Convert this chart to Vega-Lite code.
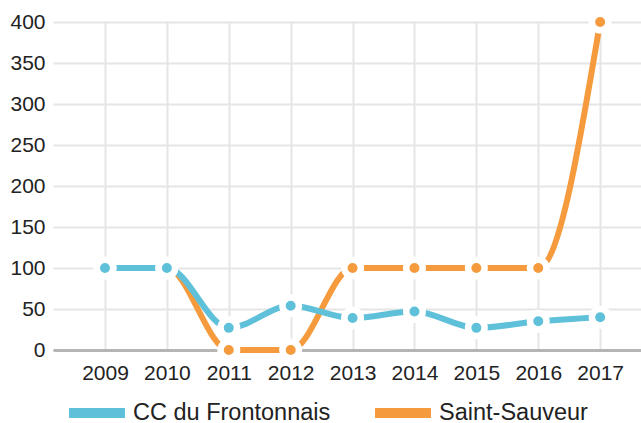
{
  "$schema": "https://vega.github.io/schema/vega-lite/v6.json",
  "width": 588,
  "height": 328,
  "autosize": {"type": "none"},
  "padding": {"left": 53, "top": 22, "right": 0, "bottom": 73},
  "background": "white",
  "config": {
    "view": {"stroke": null},
    "font": "Liberation Sans",
    "axis": {"labelColor": "#222222", "labelFont": "Liberation Sans"},
    "legend": {"labelFont": "Liberation Sans"}
  },
  "data": {
    "values": [
      {"year": 2009, "series": "CC du Frontonnais", "value": 100},
      {"year": 2010, "series": "CC du Frontonnais", "value": 100},
      {"year": 2011, "series": "CC du Frontonnais", "value": 27},
      {"year": 2012, "series": "CC du Frontonnais", "value": 54},
      {"year": 2013, "series": "CC du Frontonnais", "value": 39},
      {"year": 2014, "series": "CC du Frontonnais", "value": 47},
      {"year": 2015, "series": "CC du Frontonnais", "value": 27},
      {"year": 2016, "series": "CC du Frontonnais", "value": 35},
      {"year": 2017, "series": "CC du Frontonnais", "value": 40},
      {"year": 2009, "series": "Saint-Sauveur", "value": 100},
      {"year": 2010, "series": "Saint-Sauveur", "value": 100},
      {"year": 2011, "series": "Saint-Sauveur", "value": 0},
      {"year": 2012, "series": "Saint-Sauveur", "value": 0},
      {"year": 2013, "series": "Saint-Sauveur", "value": 100},
      {"year": 2014, "series": "Saint-Sauveur", "value": 100},
      {"year": 2015, "series": "Saint-Sauveur", "value": 100},
      {"year": 2016, "series": "Saint-Sauveur", "value": 100},
      {"year": 2017, "series": "Saint-Sauveur", "value": 400}
    ]
  },
  "encoding": {
    "x": {
      "field": "year",
      "type": "quantitative",
      "scale": {"domain": [2008.16, 2017.66], "nice": false, "zero": false},
      "axis": {
        "title": null,
        "values": [2009, 2010, 2011, 2012, 2013, 2014, 2015, 2016, 2017],
        "format": "d",
        "labelFontSize": 21,
        "labelPadding": 12,
        "ticks": false,
        "domainColor": "#b5b5b5",
        "domainWidth": 3,
        "gridColor": "#e5e5e5",
        "gridWidth": 2,
        "labelFlush": false
      }
    },
    "y": {
      "field": "value",
      "type": "quantitative",
      "scale": {"domain": [0, 400], "nice": false},
      "axis": {
        "title": null,
        "values": [0, 50, 100, 150, 200, 250, 300, 350, 400],
        "labelFontSize": 21,
        "labelPadding": 8,
        "ticks": false,
        "domain": false,
        "gridColor": "#e5e5e5",
        "gridWidth": 2
      }
    },
    "color": {
      "field": "series",
      "type": "nominal",
      "scale": {"domain": ["CC du Frontonnais", "Saint-Sauveur"], "range": ["#5fc1d9", "#f59b3d"]},
      "legend": {
        "title": null,
        "orient": "none",
        "legendX": 11,
        "legendY": 358,
        "direction": "horizontal",
        "symbolType": "stroke",
        "symbolSize": 3136,
        "symbolStrokeWidth": 10,
        "labelFontSize": 23.5,
        "labelColor": "#222222",
        "labelOffset": 3,
        "columnPadding": 24,
        "labelLimit": 400
      }
    }
  },
  "layer": [
    {
      "transform": [{"filter": "datum.series === 'Saint-Sauveur'"}],
      "mark": {"type": "line", "interpolate": "monotone", "strokeWidth": 6}
    },
    {
      "transform": [{"filter": "datum.series === 'CC du Frontonnais'"}],
      "mark": {"type": "line", "interpolate": "monotone", "strokeWidth": 6}
    },
    {
      "transform": [{"filter": "datum.series === 'Saint-Sauveur'"}],
      "mark": {"type": "point", "filled": true, "shape": "circle", "size": 272, "stroke": "white", "strokeWidth": 6.5, "opacity": 1}
    },
    {
      "transform": [{"filter": "datum.series === 'CC du Frontonnais'"}],
      "mark": {"type": "point", "filled": true, "shape": "circle", "size": 272, "stroke": "white", "strokeWidth": 6.5, "opacity": 1}
    }
  ]
}
